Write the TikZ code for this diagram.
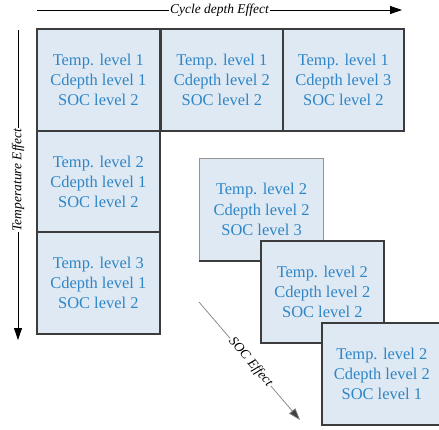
\documentclass[tikz,border=0pt]{standalone}
\usepackage{fontspec}
\setmainfont{Liberation Serif}
\usetikzlibrary{arrows.meta}
\definecolor{boxfill}{HTML}{DFE9F3}
\definecolor{boxtext}{HTML}{2F86C6}
\definecolor{boxline}{HTML}{3C3C3C}
\begin{document}
\begin{tikzpicture}[x=1bp,y=1bp,
  cell/.style={draw=boxline,line width=1.6bp,fill=boxfill,text=boxtext,
    minimum width=123bp,minimum height=102bp,inner sep=0pt,align=center,
    font=\fontsize{16.5}{20.5}\selectfont,anchor=north west},
  lightcell/.style={cell,draw=gray!85,line width=1.1bp},
  effect/.style={font=\fontsize{13.5}{15}\selectfont\itshape,fill=white,inner sep=1pt},
  arr/.style={line width=0.8bp,-{Triangle[length=12bp,width=8bp]}}]
\useasboundingbox (0,0) rectangle (439,-429);
% grid
\node[cell] (c11) at (36,-28) {Temp. level 1\\Cdepth level 1\\SOC level 2};
\node[cell,minimum width=122bp] (c12) at (160,-28) {Temp. level 1\\Cdepth level 2\\SOC level 2};
\node[cell,minimum width=121bp] (c13) at (282,-28) {Temp. level 1\\Cdepth level 3\\SOC level 2};
\node[cell] (c21) at (36,-130) {Temp. level 2\\Cdepth level 1\\SOC level 2};
\node[cell] (c31) at (36,-231) {Temp. level 3\\Cdepth level 1\\SOC level 2};
% diagonal stack
\node[lightcell,minimum width=124bp] (s3) at (199,-158) {Temp. level 2\\Cdepth level 2\\SOC level 3};
\draw[boxline,line width=1.6bp] (s3.south west) -- (s3.south east);
\node[cell] (s2) at (260,-240) {Temp. level 2\\Cdepth level 2\\SOC level 2};
\node[cell,minimum width=120bp] (s1) at (321,-322) {Temp. level 2\\Cdepth level 2\\SOC level 1};
% arrows
\coordinate (ta) at (37,-10);
\coordinate (tb) at (402,-10);
\draw[arr] (ta) -- (tb) node[effect,pos=0.5] (tl) {Cycle depth Effect};
\coordinate (la) at (18,-30);
\coordinate (lb) at (18,-340);
\draw[arr] (la) -- (lb) node[effect,pos=0.484,rotate=90] (ll) {Temperature Effect};
\coordinate (sa) at (199,-302);
\coordinate (sb) at (300,-420);
\draw[arr,draw=gray,line width=0.7bp,-{Triangle[length=12bp,width=8bp,fill=black!75]}] (sa) -- (sb) node[effect,pos=0.51,sloped] (sl) {SOC Effect};
\end{tikzpicture}
\end{document}
